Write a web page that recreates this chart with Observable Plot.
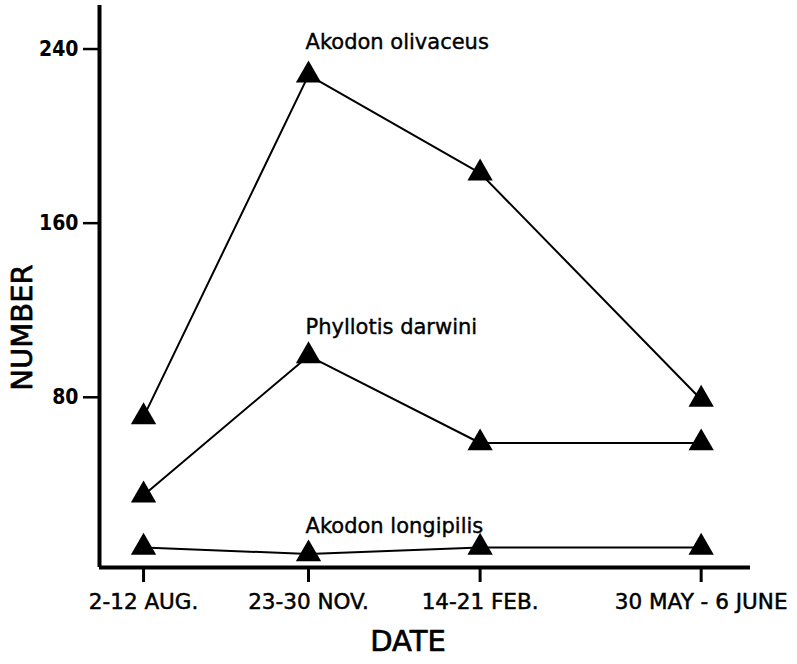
<!DOCTYPE html>
<html>
<head>
<meta charset="utf-8">
<script src="https://cdn.jsdelivr.net/npm/d3@7"></script>
<script src="https://cdn.jsdelivr.net/npm/@observablehq/plot@0.6"></script>
<style>
  html, body { margin: 0; padding: 0; background: #fff; }
  #chart svg { display: block; }
</style>
</head>
<body>
<div id="chart"></div>
<script>
// Sampling periods (position along the time axis)
const dateLabels = ["2-12 AUG.", "23-30 NOV.", "14-21 FEB.", "30 MAY - 6 JUNE"];
const datePos = [0, 1, 2.04, 3.38];

// Number of animals captured per species
const species = ["Akodon olivaceus", "Phyllotis darwini", "Akodon longipilis"];
const olivaceus = [71, 228, 183, 79];
const darwini = [35, 99, 59, 59];
const longipilis = [11, 8, 11, 11];

const yTicks = [80, 160, 240];
const xDomain = [-0.267, 3.679];
const yDomain = [1.8, 260];

const seriesValues = [olivaceus, darwini, longipilis];
const rows = [];
species.forEach((s, i) => {
  seriesValues[i].forEach((v, j) => rows.push({species: s, x: datePos[j], date: dateLabels[j], value: v}));
});
const peaks = species.map((s, i) => ({species: s, x: datePos[1], value: seriesValues[i][1]}));
const labelDy = [-33, -29, -28];

const font = "'DejaVu Sans', sans-serif";
const condensed = "'DejaVu Sans Condensed', 'Liberation Sans Narrow', sans-serif";

const chart = Plot.plot({
  width: 797,
  height: 664,
  marginLeft: 99,
  marginRight: 47,
  marginTop: 5,
  marginBottom: 97,
  style: {background: "#fff", color: "#000", fontFamily: font},
  x: {domain: xDomain, type: "linear"},
  y: {domain: yDomain},
  marks: [
    Plot.axisY({
      ticks: yTicks, tickSize: 16, tickPadding: 5, strokeWidth: 2.5,
      fontSize: 21, fontFamily: condensed, fontWeight: "bold", label: null
    }),
    Plot.axisX({
      ticks: datePos, tickSize: 15, tickPadding: 12, strokeWidth: 3,
      text: null, label: null
    }),
    Plot.text(dateLabels, {
      x: (d, i) => datePos[i], y: yDomain[0], dy: 35, fontSize: 21.5,
      fontFamily: font, stroke: "#000", strokeWidth: 0.5, fill: "#000"
    }),
    Plot.ruleX([xDomain[0]], {y1: yDomain[0], y2: yDomain[1], strokeWidth: 4}),
    Plot.ruleY([yDomain[0]], {x1: xDomain[0], x2: xDomain[1], strokeWidth: 4}),
    Plot.line(rows, {x: "x", y: "value", z: "species", stroke: "#000", strokeWidth: 2}),
    Plot.dot(rows, {x: "x", y: "value", symbol: "triangle", r: 9.4, fill: "#000", stroke: "none"}),
    ...peaks.map((p, i) => Plot.text([p], {
      x: "x", y: "value", text: "species", textAnchor: "start", dx: -3,
      dy: labelDy[i], fontSize: 21, fontFamily: font, stroke: "#000", strokeWidth: 0.4, fill: "#000"
    })),
    Plot.text(["NUMBER"], {frameAnchor: "left", textAnchor: "middle", dx: -77, dy: 41, rotate: -90, fontSize: 29, fontFamily: font, stroke: "#000", strokeWidth: 0.7, fill: "#000"}),
    Plot.text(["DATE"], {frameAnchor: "bottom", textAnchor: "middle", dy: 83, dx: -17, fontSize: 29, fontFamily: font, stroke: "#000", strokeWidth: 0.7, fill: "#000"})
  ]
});
document.getElementById("chart").appendChild(chart);
</script>
</body>
</html>
